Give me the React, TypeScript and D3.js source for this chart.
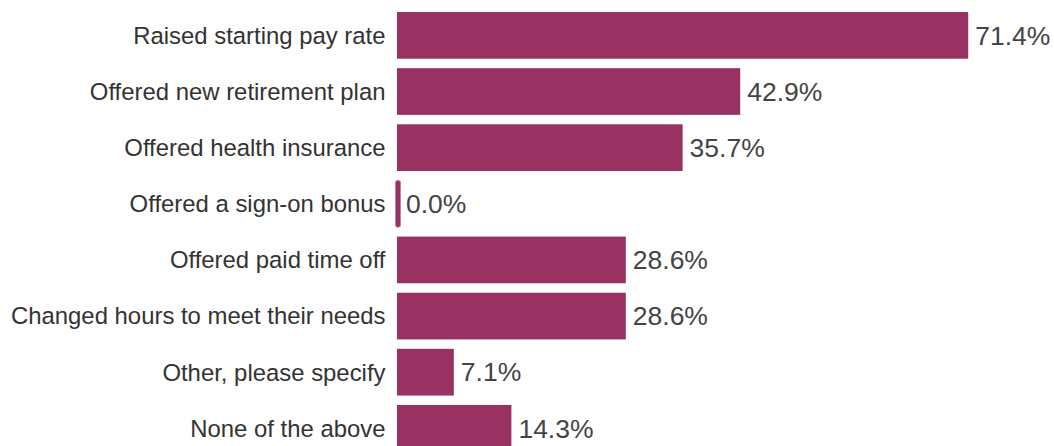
import React from "react";
import * as d3 from "d3";

const categories = [
  "Raised starting pay rate",
  "Offered new retirement plan",
  "Offered health insurance",
  "Offered a sign-on bonus",
  "Offered paid time off",
  "Changed hours to meet their needs",
  "Other, please specify",
  "None of the above",
];
const values = [71.4, 42.9, 35.7, 0.0, 28.6, 28.6, 7.1, 14.3];

const W = 1054;
const H = 446;

export default function App() {
  const x = d3.scaleLinear().domain([0, 100]).range([397, 1197]);
  const y = d3
    .scaleBand<string>()
    .domain(categories)
    .range([7.3, 7.3 + 56.14 * 8])
    .paddingInner(0.168)
    .paddingOuter(0.084);
  const font = "'Liberation Sans', Arial, sans-serif";
  return (
    <svg
      width={W}
      height={H}
      style={{ position: "absolute", left: 0, top: 0 }}
    >
      {categories.map((c, i) => {
        const v = values[i];
        const y0 = y(c)!;
        const bh = y.bandwidth();
        const cy = y0 + bh / 2;
        const xe = x(v);
        return (
          <g key={c}>
            {v > 0 ? (
              <rect x={x(0)} y={y0} width={xe - x(0)} height={bh} fill="#993263" />
            ) : (
              <rect
                x={x(0) - 1.5}
                y={y0}
                width={5}
                height={bh}
                rx={2}
                fill="#993263"
                stroke="#c8799f"
                strokeWidth={0.8}
              />
            )}
            <text
              x={x(0) - 11.5}
              y={cy}
              dy="0.35em"
              textAnchor="end"
              fontFamily={font}
              fontSize={23.9}
              fill="#333"
            >
              {c}
            </text>
            <text
              x={Math.max(xe, x(0) + 2) + 7}
              y={cy}
              dy="0.35em"
              fontFamily={font}
              fontSize={26.5}
              fill="#444"
            >
              {v.toFixed(1) + "%"}
            </text>
          </g>
        );
      })}
    </svg>
  );
}
